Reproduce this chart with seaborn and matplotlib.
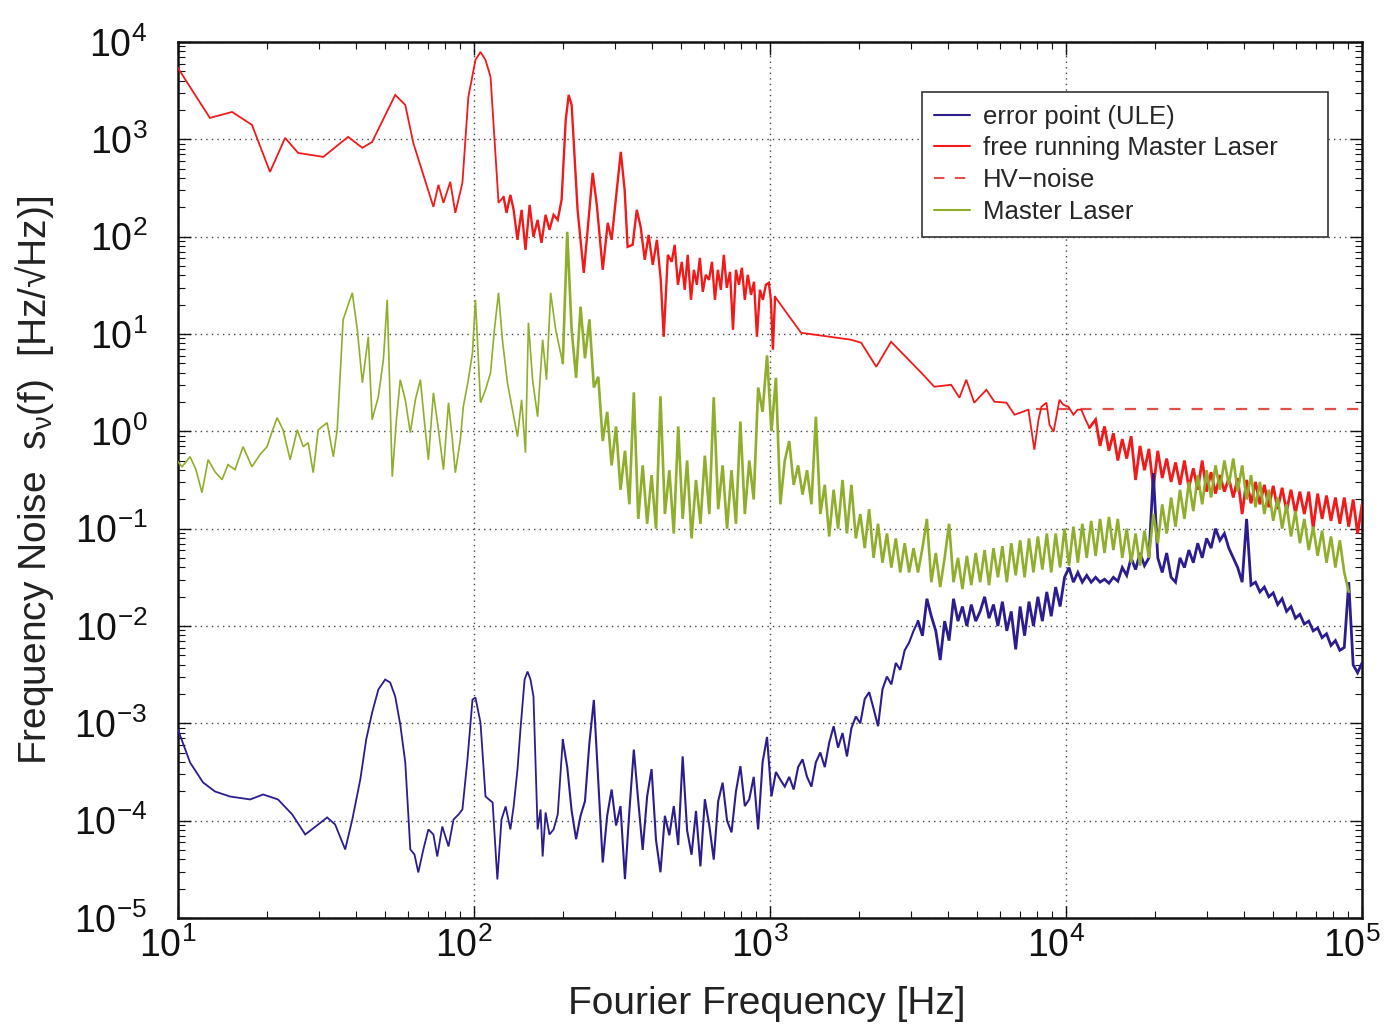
import numpy as np
import pandas as pd
import matplotlib
matplotlib.use("Agg")
import matplotlib.pyplot as plt
import matplotlib.transforms as mtransforms
import seaborn as sns
from matplotlib.ticker import LogLocator, NullFormatter

sns.set_theme(style="ticks")
plt.rcParams["font.family"] = ["Liberation Sans", "DejaVu Sans"]
plt.rcParams["mathtext.fontset"] = "custom"
plt.rcParams["mathtext.rm"] = "Liberation Sans"
plt.rcParams["mathtext.it"] = "Liberation Sans:italic"
plt.rcParams["mathtext.default"] = "regular"

# ---------------------------------------------------------------------------
# Spectra, stored as decade exponents: log10(f / Hz) and log10(S / (Hz/sqrt(Hz)))
# ---------------------------------------------------------------------------

# common frequency bins of the densely sampled part of the spectra
log_f_mid = [
    2.300, 2.315, 2.330, 2.345, 2.360, 2.375, 2.390, 2.405, 2.420, 2.435,
    2.450, 2.465, 2.480, 2.495, 2.510, 2.525, 2.540, 2.555, 2.570, 2.585,
    2.600, 2.615, 2.630, 2.645, 2.660, 2.675, 2.690, 2.705, 2.720, 2.735,
    2.750, 2.765, 2.780, 2.795, 2.810, 2.825, 2.840, 2.855, 2.870, 2.885,
    2.900, 2.915, 2.930, 2.945, 2.960, 2.975, 2.990, 3.005, 3.020, 3.035,
    3.050, 3.065, 3.080, 3.095, 3.110, 3.125, 3.140, 3.155, 3.170, 3.185,
    3.200, 3.215, 3.230, 3.245, 3.260, 3.275, 3.290, 3.305, 3.320, 3.335,
    3.350, 3.365, 3.380, 3.395, 3.410, 3.425, 3.440, 3.455, 3.470, 3.485,
]
log_f_high = [
    3.500, 3.515, 3.530, 3.545, 3.560, 3.575, 3.590, 3.605, 3.620, 3.635,
    3.650, 3.665, 3.680, 3.695, 3.710, 3.725, 3.740, 3.755, 3.770, 3.785,
    3.800, 3.815, 3.830, 3.845, 3.860, 3.875, 3.890, 3.905, 3.920, 3.935,
    3.950, 3.965, 3.980, 3.995, 4.010, 4.025, 4.040, 4.055, 4.070, 4.085,
    4.100, 4.115, 4.130, 4.145, 4.160, 4.175, 4.190, 4.205, 4.220, 4.235,
    4.250, 4.265, 4.280, 4.295, 4.310, 4.325, 4.340, 4.355, 4.370, 4.385,
    4.400, 4.415, 4.430, 4.445, 4.460, 4.475, 4.490, 4.505, 4.520, 4.535,
    4.550, 4.565, 4.580, 4.595, 4.610, 4.625, 4.640, 4.655, 4.670, 4.685,
    4.700, 4.715, 4.730, 4.745, 4.760, 4.775, 4.790, 4.805, 4.820, 4.835,
    4.850, 4.865, 4.880, 4.895, 4.910, 4.925, 4.940, 4.955, 4.970, 4.985,
    5.000,
]

# free running Master Laser: 10-120 Hz, 120-1050 Hz, 1-12 kHz
red_log_f_a = [
    1.000, 1.058, 1.108, 1.183, 1.250, 1.311, 1.362, 1.406, 1.491, 1.575,
    1.623, 1.656, 1.734, 1.768, 1.795, 1.863, 1.880, 1.897, 1.920, 1.937,
    1.961, 1.981, 2.005, 2.022, 2.039, 2.056, 2.083,
]
red_log_s_a = [
    3.733, 3.456, 3.220, 3.281, 3.148, 2.665, 3.014, 2.860, 2.819, 3.025,
    2.912, 2.973, 3.456, 3.353, 2.963, 2.306, 2.532, 2.347, 2.563, 2.244,
    2.552, 3.435, 3.815, 3.897, 3.815, 3.641, 2.347,
]
red_log_f_b = [
    2.100, 2.110, 2.123,
    2.134, 2.147, 2.161, 2.174, 2.188, 2.201, 2.215, 2.228, 2.242, 2.255,
    2.269, 2.283, 2.296, 2.310, 2.320, 2.330, 2.350, 2.371, 2.387, 2.401,
    2.415, 2.435, 2.452, 2.465, 2.479, 2.496, 2.509, 2.519, 2.536, 2.550,
    2.563, 2.577, 2.590, 2.604, 2.618, 2.631, 2.641, 2.655, 2.668, 2.678,
    2.689, 2.702, 2.712, 2.722, 2.733, 2.743, 2.753, 2.763, 2.773, 2.783,
    2.794, 2.804, 2.814, 2.824, 2.834, 2.844, 2.854, 2.865, 2.875, 2.885,
    2.895, 2.905, 2.915, 2.925, 2.936, 2.946, 2.956, 2.966, 2.976, 2.986,
    2.996, 3.003, 3.010, 3.017,
]
red_log_s_b = [
    2.409, 2.244, 2.429,
    2.275, 1.967, 2.275, 1.864, 2.326, 1.998, 2.172, 1.936, 2.224, 2.070,
    2.224, 2.172, 2.378, 3.199, 3.456, 3.353, 2.275, 1.628, 2.172, 2.655,
    2.326, 1.659, 2.142, 1.967, 2.378, 2.871, 2.480, 1.895, 1.916, 2.275,
    2.101, 1.762, 2.018, 1.710, 1.967, 1.556, 0.971, 1.813, 1.741, 1.916,
    1.505, 1.741, 1.454, 1.813, 1.351, 1.659, 1.505, 1.782, 1.433, 1.608,
    1.556, 1.741, 1.351, 1.659, 1.454, 1.813, 1.474, 1.638, 1.043, 1.659,
    1.505, 1.680, 1.351, 1.608, 1.402, 1.536, 0.971, 1.454, 1.351, 1.505,
    1.526, 1.351, 0.838, 1.382,
]
red_log_f_c = [
    3.105, 3.274, 3.308, 3.359, 3.409, 3.511,
    3.555, 3.612, 3.640, 3.663, 3.690, 3.731, 3.758, 3.799, 3.826, 3.873,
    3.893, 3.907, 3.917, 3.934, 3.944, 3.958, 3.978, 3.991, 4.008, 4.025,
    4.039, 4.052, 4.066, 4.079,
]
red_log_s_c = [
    1.012, 0.941, 0.910, 0.663, 0.920, 0.602,
    0.458, 0.478, 0.345, 0.530, 0.294, 0.427, 0.304, 0.294, 0.170, 0.222,
    -0.189, 0.119, 0.253, 0.294, 0.068, -0.004, 0.324, 0.273, 0.253, 0.170,
    0.222, 0.222, 0.119, 0.037,
]
# on log_f_high[40:]
red_log_s_high = [
    0.12, -0.15, 0.05, -0.20, -0.02, -0.30, -0.08, -0.28, -0.05, -0.50,
    -0.15, -0.40, -0.18, -0.58, -0.20, -0.48, -0.28, -0.52, -0.32, -0.55,
    -0.30, -0.58, -0.38, -0.60, -0.30, -0.62, -0.42, -0.64, -0.45, -0.62,
    -0.48, -0.68, -0.48, -0.85, -0.50, -0.74, -0.52, -0.75, -0.55, -0.78,
    -0.56, -0.80, -0.58, -0.82, -0.60, -0.84, -0.62, -0.85, -0.62, -1.00,
    -0.64, -0.90, -0.66, -0.92, -0.68, -0.95, -0.68, -0.98, -0.70, -1.05,
    -0.75,
]

# HV-noise
hv_log_f = [3.90, 5.00]
hv_log_s = [0.23, 0.23]

# Master Laser
green_log_f_low = [
    1.000, 1.014, 1.041, 1.061, 1.081, 1.102, 1.125, 1.149, 1.169, 1.193,
    1.220, 1.250, 1.277, 1.301, 1.318, 1.335, 1.355, 1.379, 1.403, 1.423,
    1.440, 1.457, 1.474, 1.504, 1.525, 1.538, 1.558, 1.575, 1.589, 1.606,
    1.623, 1.643, 1.656, 1.677, 1.694, 1.707, 1.724, 1.738, 1.751, 1.768,
    1.785, 1.802, 1.819, 1.832, 1.846, 1.863, 1.880, 1.897, 1.914, 1.927,
    1.937, 1.954, 1.964, 1.981, 1.995, 2.005, 2.015, 2.022, 2.039, 2.056,
    2.069, 2.083, 2.096, 2.113, 2.130, 2.147, 2.161, 2.174, 2.184, 2.198,
    2.215, 2.232, 2.245, 2.259, 2.276,
]
green_log_s_low = [
    -0.312, -0.364, -0.261, -0.394, -0.630, -0.292, -0.415, -0.497, -0.343, -0.394,
    -0.158, -0.364, -0.240, -0.158, -0.004, 0.140, 0.016, -0.292, 0.016, -0.158,
    -0.117, -0.425, 0.016, 0.088, -0.261, 0.016, 1.146, 1.300, 1.423, 1.043,
    0.499, 0.971, 0.119, 0.355, 0.735, 1.351, -0.466, 0.119, 0.530, 0.324,
    -0.014, 0.324, 0.530, 0.119, -0.292, 0.396, 0.016, -0.394, 0.294, -0.086,
    -0.425, -0.086, 0.253, 0.530, 0.807, 1.351, 0.735, 0.294, 0.427, 0.602,
    1.043, 1.423, 0.941, 0.499, 0.222, -0.055, 0.324, -0.220, 1.115, 0.530,
    0.150, 0.941, 0.530, 1.423, 1.043,
]
green_log_s_mid = [
    0.70, 2.05, 1.04, 0.55, 1.28, 0.75, 1.15, 0.45, 0.56, -0.10,
    0.20, -0.35, 0.05, -0.60, -0.20, -0.75, 0.40, -0.90, -0.35, -0.95,
    -0.45, -1.00, 0.36, -0.85, -0.40, -1.05, 0.05, -0.90, -0.30, -1.10,
    -0.50, -0.95, -0.25, -0.85, 0.35, -0.80, -0.35, -1.00, -0.40, -0.95,
    0.10, -0.85, -0.30, -0.70, 0.45, 0.20, 0.78, 0.00, 0.55, -0.75,
    -0.30, -0.10, -0.55, -0.35, -0.65, -0.40, -0.75, 0.15, -0.85, -0.55,
    -1.08, -0.60, -1.00, -0.50, -1.05, -0.55, -1.10, -0.85, -1.20, -0.80,
    -1.30, -0.95, -1.35, -1.05, -1.40, -1.10, -1.45, -1.15, -1.45, -1.20,
]
# on log_f_high[:98]
green_log_s_high = [
    -1.45, -1.20, -0.90, -1.55, -1.25, -1.60, -1.30, -0.95, -1.55, -1.30,
    -1.62, -1.28, -1.58, -1.25, -1.55, -1.22, -1.58, -1.20, -1.50, -1.18,
    -1.55, -1.15, -1.48, -1.12, -1.50, -1.10, -1.45, -1.08, -1.42, -1.05,
    -1.45, -1.05, -1.40, -1.00, -1.38, -0.98, -1.35, -0.95, -1.30, -0.92,
    -1.28, -0.90, -1.25, -0.88, -1.22, -0.90, -1.30, -1.00, -1.35, -1.05,
    -1.38, -1.02, -1.30, -0.85, -1.15, -0.75, -1.05, -0.68, -0.98, -0.60,
    -0.90, -0.52, -0.82, -0.45, -0.75, -0.40, -0.68, -0.35, -0.60, -0.30,
    -0.55, -0.28, -0.62, -0.35, -0.70, -0.45, -0.78, -0.52, -0.85, -0.60,
    -0.92, -0.68, -1.00, -0.75, -1.08, -0.82, -1.15, -0.90, -1.22, -0.98,
    -1.28, -1.02, -1.35, -1.08, -1.40, -1.12, -1.45, -1.65,
]

# error point (ULE)
blue_log_f_low = [
    1.000, 1.041, 1.085, 1.125, 1.176, 1.244, 1.288, 1.338, 1.386, 1.430,
    1.474, 1.504, 1.531, 1.565, 1.589, 1.616, 1.636, 1.656, 1.677, 1.700,
    1.717, 1.734, 1.751, 1.768, 1.785, 1.799, 1.812, 1.829, 1.846, 1.863,
    1.876, 1.893, 1.914, 1.931, 1.948, 1.961, 1.978, 1.995, 2.005, 2.022,
    2.039, 2.063, 2.079, 2.093, 2.107, 2.123, 2.134, 2.147, 2.157, 2.171,
    2.181, 2.191, 2.201, 2.215, 2.225, 2.232, 2.242, 2.255, 2.269, 2.283,
]
blue_log_s_low = [
    -3.064, -3.403, -3.608, -3.700, -3.752, -3.782, -3.731, -3.782, -3.936, -4.142,
    -4.039, -3.967, -4.039, -4.296, -3.988, -3.577, -3.166, -2.889, -2.653, -2.550,
    -2.581, -2.725, -3.012, -3.403, -4.296, -4.347, -4.532, -4.296, -4.090, -4.142,
    -4.368, -4.060, -4.265, -3.988, -3.936, -3.885, -3.371, -2.756, -2.735, -2.992,
    -3.752, -3.813, -4.604, -3.988, -3.854, -4.090, -3.854, -3.474, -3.064, -2.550,
    -2.468, -2.550, -2.725, -4.090, -3.885, -4.368, -3.916, -4.142, -4.090, -3.936,
]
blue_log_s_mid = [
    -3.17, -3.45, -3.90, -4.19, -3.95, -3.80, -3.20, -2.76, -3.60, -4.43,
    -3.95, -3.68, -4.05, -3.85, -4.60, -3.90, -3.27, -3.80, -4.30, -3.75,
    -3.47, -4.20, -4.53, -3.95, -4.15, -3.85, -4.25, -3.34, -4.10, -4.35,
    -3.90, -4.47, -3.78, -4.05, -4.40, -3.80, -3.61, -4.00, -4.12, -3.70,
    -3.44, -3.85, -3.78, -3.55, -4.09, -3.40, -3.14, -3.75, -3.50, -3.58,
    -3.65, -3.55, -3.68, -3.45, -3.37, -3.55, -3.65, -3.40, -3.30, -3.45,
    -3.20, -3.03, -3.25, -3.10, -3.34, -3.05, -2.93, -3.00, -2.75, -2.68,
    -2.85, -3.03, -2.65, -2.52, -2.60, -2.38, -2.45, -2.25, -2.17, -2.05,
]
blue_log_s_high = [
    -1.95, -2.10, -1.72, -1.90, -2.05, -2.35, -1.95, -2.15, -1.72, -1.95,
    -1.80, -2.00, -1.78, -1.95, -1.85, -1.70, -1.92, -1.78, -2.00, -1.75,
    -2.05, -1.85, -2.24, -1.80, -2.10, -1.75, -2.00, -1.70, -1.95, -1.65,
    -1.90, -1.60, -1.80, -1.50, -1.40, -1.55, -1.45, -1.55, -1.48, -1.55,
    -1.50, -1.55, -1.52, -1.56, -1.50, -1.54, -1.40, -1.48, -1.30, -1.42,
    -1.25, -1.38, -1.30, -0.43, -1.30, -1.45, -1.25, -1.50, -1.55, -1.30,
    -1.40, -1.22, -1.35, -1.15, -1.30, -1.10, -1.20, -1.00, -1.12, -1.05,
    -1.20, -1.30, -1.40, -1.55, -0.90, -1.58, -1.55, -1.65, -1.60, -1.70,
    -1.66, -1.78, -1.72, -1.85, -1.80, -1.92, -1.88, -1.98, -1.95, -2.05,
    -2.02, -2.12, -2.08, -2.20, -2.15, -2.25, -2.22, -1.55, -2.40, -2.48,
    -2.38,
]

labels = ["error point (ULE)", "free running Master Laser", "HV\u2212noise", "Master Laser"]
colors = {"blue": "#2b1d8e", "red": "#f01a1a", "hv": "#e0504a", "green": "#8fae2c"}


def spectrum(log_f, log_s):
    return pd.DataFrame({"freq": 10.0 ** np.asarray(log_f, float),
                         "noise": 10.0 ** np.asarray(log_s, float)})


# each trace is drawn piecewise (joined end to end): thin where sparse, heavier where dense
red_parts = [
    (spectrum(red_log_f_a + red_log_f_b[:1], red_log_s_a + red_log_s_b[:1]), 1.3),
    (spectrum(red_log_f_b, red_log_s_b), 1.7),
    (spectrum(red_log_f_b[-1:] + red_log_f_c, red_log_s_b[-1:] + red_log_s_c), 1.3),
    (spectrum(red_log_f_c[-1:] + log_f_high[40:], red_log_s_c[-1:] + red_log_s_high), 2.0),
]
blue_parts = [
    (spectrum(blue_log_f_low + log_f_mid[:1], blue_log_s_low + blue_log_s_mid[:1]), 1.3),
    (spectrum(log_f_mid + log_f_high[:1], blue_log_s_mid + blue_log_s_high[:1]), 1.5),
    (spectrum(log_f_high, blue_log_s_high), 2.0),
]
green_parts = [
    (spectrum(green_log_f_low + log_f_mid[:1], green_log_s_low + green_log_s_mid[:1]), 1.2),
    (spectrum(log_f_mid + log_f_high[:98], green_log_s_mid + green_log_s_high), 1.9),
]
hv = spectrum(hv_log_f, hv_log_s)

fig, ax = plt.subplots(figsize=(13.88, 10.31), dpi=100)
fig.subplots_adjust(left=0.1282, right=0.9813, top=0.9593, bottom=0.1096)
ax.set_xscale("log")
ax.set_yscale("log")

common = dict(ax=ax, x="freq", y="noise", estimator=None, sort=False, legend=False)
sns.lineplot(data=hv, color=colors["hv"], linewidth=1.6, linestyle=(0, (5, 5)), zorder=2, **common)
h_hv = ax.lines[-1]


def draw(parts, color, z):
    for df, lw in parts:
        sns.lineplot(data=df, color=color, linewidth=lw, zorder=z,
                     solid_joinstyle="miter", **common)
    return ax.lines[-1]


h_red = draw(red_parts, colors["red"], 3)
h_blue = draw(blue_parts, colors["blue"], 4)
h_green = draw(green_parts, colors["green"], 5)

ax.set_xlim(10, 1e5)
ax.set_ylim(1e-5, 1e4)
ax.xaxis.set_major_locator(LogLocator(base=10, numticks=20))
ax.yaxis.set_major_locator(LogLocator(base=10, numticks=20))
ax.xaxis.set_minor_locator(LogLocator(base=10, subs=np.arange(2, 10), numticks=50))
ax.yaxis.set_minor_locator(LogLocator(base=10, subs=np.arange(2, 10), numticks=50))
ax.xaxis.set_minor_formatter(NullFormatter())
ax.yaxis.set_minor_formatter(NullFormatter())
ax.xaxis.get_offset_text().set_visible(False)
ax.yaxis.get_offset_text().set_visible(False)

ax.grid(True, which="major", linestyle=(0, (1, 3)), color="#444444", linewidth=1.0)
ax.tick_params(which="both", direction="in", top=True, right=True, colors="#111111")
ax.tick_params(which="major", length=9, width=1.0, labelsize=27)
ax.tick_params(axis="x", which="major", pad=7)
ax.tick_params(axis="y", which="major", pad=22)
ax.tick_params(which="minor", length=5, width=0.8)
for sp in ax.spines.values():
    sp.set_linewidth(1.8)
    sp.set_color("#111111")

# frequency labels sit a little to the left of their ticks
shift = mtransforms.ScaledTranslation(-10 / 100, 0, fig.dpi_scale_trans)
for lab in ax.get_xticklabels():
    lab.set_transform(lab.get_transform() + shift)

ax.set_xlabel("Fourier Frequency [Hz]", fontsize=28, color="#222222")
ax.set_ylabel("Frequency Noise  s$_{\\nu}$(f)  [Hz/\u221aHz)]", fontsize=28, color="#222222")
ax.xaxis.set_label_coords(0.497, -0.078)
ax.yaxis.set_label_coords(-0.103, 0.5)

leg = ax.legend(handles=[h_blue, h_red, h_hv, h_green], labels=labels,
                loc="upper left", bbox_to_anchor=(0.628, 0.776, 0.343, 0.167),
                mode="expand", borderaxespad=0, fontsize=18.5,
                frameon=True, fancybox=False, framealpha=1, edgecolor="#333333",
                handlelength=1.4, handletextpad=0.5, labelspacing=0.3, borderpad=0.5)
leg.get_frame().set_linewidth(1.2)
for line in leg.get_lines():
    line.set_linewidth(1.5)

fig.savefig("out.png", dpi=100, facecolor="white")
